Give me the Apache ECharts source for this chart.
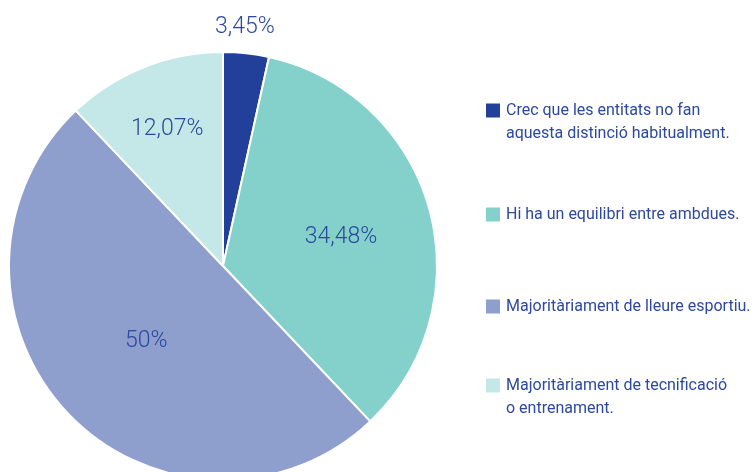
<!DOCTYPE html>
<html>
<head>
<meta charset="utf-8">
<script src="https://cdn.jsdelivr.net/npm/echarts@6/dist/echarts.min.js"></script>
<style>
  html, body { margin: 0; padding: 0; background: #fff; }
  #chart { width: 755px; height: 472px; }
</style>
</head>
<body>
<div id="chart"></div>
<script>
// dades del gràfic
var categories = [
  "Crec que les entitats no fan\naquesta distinció habitualment.",
  "Hi ha un equilibri entre ambdues.",
  "Majoritàriament de lleure esportiu.",
  "Majoritàriament de tecnificació\no entrenament."
];
var values = [3.45, 34.48, 50, 12.07];

var colors = ["#22409a", "#84d1cc", "#8e9fcd", "#c3e8e7"];
var textColor = "#2c48a0";
var font = "Roboto, 'Noto Sans', sans-serif";

// desplaçament de les etiquetes respecte del centre del sector
var labelShift = [[10, -129], [12, 1], [3, 0], [-15, -35]];
var legendTops = [76, 203, 295, 351];

var chart = echarts.init(document.getElementById("chart"));

var legends = categories.map(function (name, i) {
  var twoLines = name.indexOf("\n") >= 0;
  return {
    left: 484,
    top: legendTops[i],
    padding: 0,
    orient: "vertical",
    icon: "rect",
    itemWidth: 16,
    itemHeight: 16,
    itemGap: 0,
    selectedMode: false,
    data: [name],
    // línia buida a dalt perquè el quadrat quedi alineat amb la primera línia
    formatter: function (n) {
      return twoLines ? " \n" + n : n;
    },
    textStyle: {
      color: textColor,
      fontFamily: font,
      fontSize: 16,
      lineHeight: 23
    }
  };
});

chart.setOption({
  animation: false,
  color: colors,
  legend: legends,
  series: [
    {
      type: "pie",
      center: [223, 266],
      radius: 214,
      startAngle: 90,
      clockwise: true,
      itemStyle: { borderColor: "#fff", borderWidth: 2 },
      label: {
        show: true,
        position: "inside",
        color: textColor,
        fontFamily: font,
        fontWeight: 300,
        fontSize: 23,
        formatter: function (p) {
          return String(p.value).replace(".", ",") + "%";
        }
      },
      labelLine: { show: false },
      labelLayout: function (p) {
        var s = labelShift[p.dataIndex];
        return { dx: s[0], dy: s[1] };
      },
      emphasis: { disabled: true },
      data: categories.map(function (c, i) {
        return { name: c, value: values[i] };
      })
    }
  ]
});
</script>
</body>
</html>
